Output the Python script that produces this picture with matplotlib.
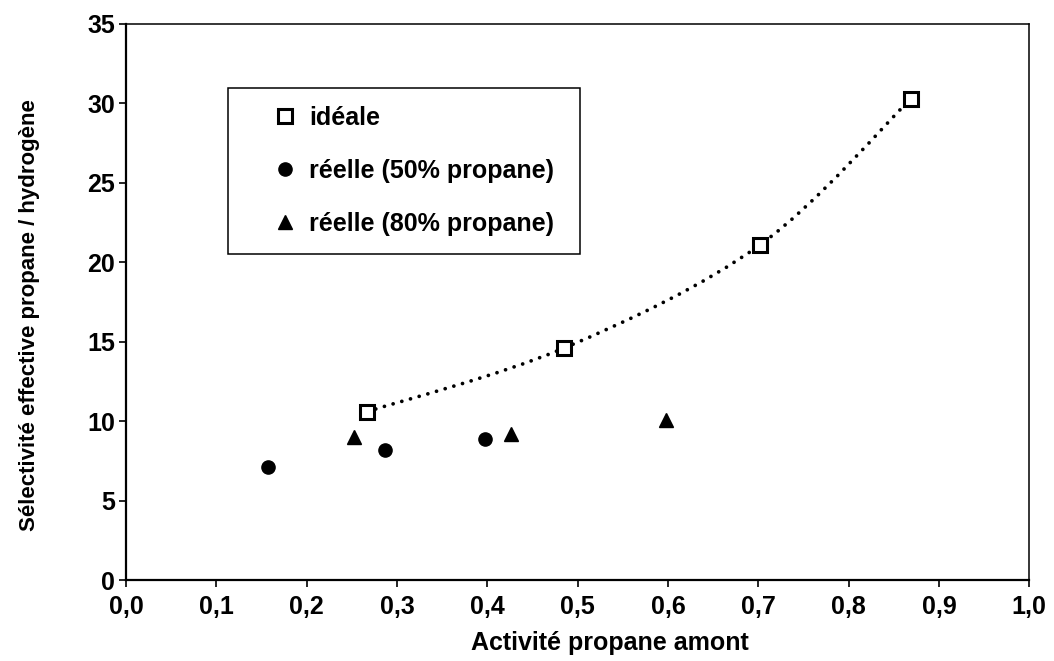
"""
plot.py -- effective propane / hydrogen selectivity vs upstream propane activity.
"""

import matplotlib
matplotlib.use("Agg")
import matplotlib.pyplot as plt
from matplotlib.path import Path
from matplotlib.patches import PathPatch, Rectangle
from matplotlib.ticker import FuncFormatter, MultipleLocator

# ----------------------------------------------------------------------
# Data
# ----------------------------------------------------------------------
ideal_x = [0.267, 0.485, 0.702, 0.869]
ideal_y = [10.6, 14.6, 21.1, 30.3]

real50_x = [0.157, 0.287, 0.398]
real50_y = [7.1, 8.2, 8.9]

real80_x = [0.253, 0.426, 0.598]
real80_y = [9.0, 9.2, 10.1]

labels = ["idéale", "réelle (50% propane)", "réelle (80% propane)"]
x_title = "Activité propane amont"
y_title = "Sélectivité effective propane / hydrogène"


def smooth_path(xs, ys):
    """Excel-style smoothed line: Catmull-Rom converted to cubic Beziers."""
    pts = list(zip(xs, ys))
    n = len(pts)
    verts = [pts[0]]
    codes = [Path.MOVETO]
    for i in range(n - 1):
        p0 = pts[max(i - 1, 0)]
        p1 = pts[i]
        p2 = pts[i + 1]
        p3 = pts[min(i + 2, n - 1)]
        c1 = (p1[0] + (p2[0] - p0[0]) / 6, p1[1] + (p2[1] - p0[1]) / 6)
        c2 = (p2[0] - (p3[0] - p1[0]) / 6, p2[1] - (p3[1] - p1[1]) / 6)
        verts += [c1, c2, p2]
        codes += [Path.CURVE4] * 3
    return Path(verts, codes)


plt.rcParams["font.family"] = ["Liberation Sans", "DejaVu Sans"]
plt.rcParams["font.weight"] = "bold"

fig = plt.figure(figsize=(10.54, 6.61), dpi=100)
ax = fig.add_axes([0.1195, 0.1225, 0.857, 0.8412])

# dotted smoothed curve through the ideal points (round dots, ~9 px apart)
curve = PathPatch(smooth_path(ideal_x, ideal_y), fill=False, edgecolor="black",
                  linewidth=2.7, linestyle=(0, (0.01, 2.4)), capstyle="round",
                  zorder=2)
ax.add_patch(curve)

ax.plot(ideal_x, ideal_y, ls="none", marker="s", ms=9.5, mfc="white",
        mec="black", mew=2.2, label=labels[0], zorder=3)
ax.plot(real50_x, real50_y, ls="none", marker="o", ms=9.5, color="black",
        label=labels[1], zorder=3)
ax.plot(real80_x, real80_y, ls="none", marker="^", ms=10, color="black",
        label=labels[2], zorder=3)

ax.set_xlim(0, 1.0)
ax.set_ylim(0, 35)
ax.xaxis.set_major_locator(MultipleLocator(0.1))
ax.yaxis.set_major_locator(MultipleLocator(5))
ax.xaxis.set_major_formatter(FuncFormatter(lambda v, p: f"{v:.1f}".replace(".", ",")))
ax.yaxis.set_major_formatter(FuncFormatter(lambda v, p: f"{v:.0f}"))

ax.tick_params(axis="both", direction="out", length=5, width=1.2,
               labelsize=18, color="black")
ax.tick_params(axis="x", pad=6)
ax.tick_params(axis="y", pad=3)
for lab in ax.get_xticklabels() + ax.get_yticklabels():
    lab.set_fontweight("bold")

for side in ["left", "bottom"]:
    ax.spines[side].set_linewidth(1.6)
for side in ["top", "right"]:
    ax.spines[side].set_linewidth(1.1)

ax.set_xlabel(x_title, fontsize=18, fontweight="bold")
ax.xaxis.set_label_coords(0.536, -0.092)
ax.set_ylabel(y_title, fontsize=16, fontweight="bold")
ax.yaxis.set_label_coords(-0.095, 0.477)

# legend box drawn separately so the padding can match the original
ax.add_patch(Rectangle((0.113, 0.586), 0.39, 0.299, transform=ax.transAxes,
                       fill=True, facecolor="white", edgecolor="black",
                       linewidth=1.1, zorder=4))
leg = ax.legend(loc="center left", bbox_to_anchor=(0.161, 0.7356),
                frameon=False, borderpad=0, borderaxespad=0,
                handlelength=1.1, handletextpad=0.4, labelspacing=1.16,
                numpoints=1, prop={"size": 18, "weight": "bold"})
leg.set_zorder(5)

fig.savefig("out.png", dpi=100)
